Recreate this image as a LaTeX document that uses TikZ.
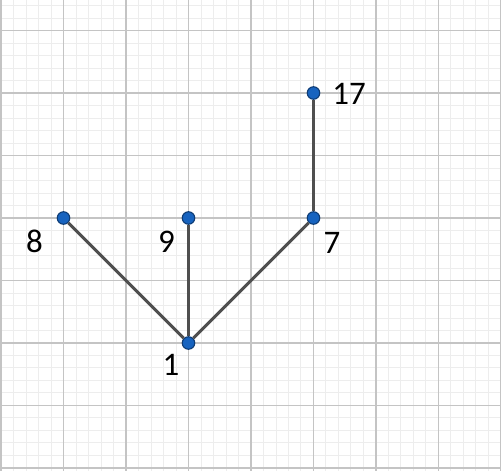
\documentclass[tikz,border=0pt]{standalone}
\usepackage{fontspec}
\setmainfont{Carlito}
\usepackage{xcolor}
\usepackage{tikz}
\usetikzlibrary{positioning}

\definecolor{dotblue}{HTML}{1763BF}
\definecolor{dotrim}{HTML}{0E3C75}
\definecolor{edgegray}{HTML}{4F4F4F}
\definecolor{minorgray}{HTML}{EDEDED}
\definecolor{majorgray}{HTML}{C4C4C4}

\begin{document}
\begin{tikzpicture}[
  vertex/.style={circle, draw=dotrim, line width=0.5pt, fill=dotblue, inner sep=0pt, minimum size=0.2cm},
  edge/.style={draw=edgegray, line width=1.4pt},
  tag/.style={font=\fontsize{15}{18}\selectfont, inner sep=0pt}
]
  \useasboundingbox (-0.016,-0.048) rectangle (8.0,7.488);
  \draw[minorgray, line width=0.45pt, step=0.2] (-0.016,-0.048) grid (8.0,7.488);
  \draw[majorgray, line width=0.7pt, step=1] (-0.016,-0.048) grid (8.0,7.488);
  \node[vertex] (n1) at (3,2) {};
  \node[vertex] (n8) at (1,4) {};
  \node[vertex] (n9) at (3,4) {};
  \node[vertex] (n7) at (5,4) {};
  \node[vertex] (n17) at (5,6) {};
  \draw[edge] (n8) -- (n1);
  \draw[edge] (n9) -- (n1);
  \draw[edge] (n7) -- (n1);
  \draw[edge] (n17) -- (n7);
  \node[tag] (t1) at (2.72,1.648) {1};
  \node[tag] (t8) at (0.536,3.624) {8};
  \node[tag] (t9) at (2.648,3.624) {9};
  \node[tag] (t7) at (5.296,3.6) {7};
  \node[tag] (t17) at (5.568,5.992) {17};
\end{tikzpicture}
\end{document}
